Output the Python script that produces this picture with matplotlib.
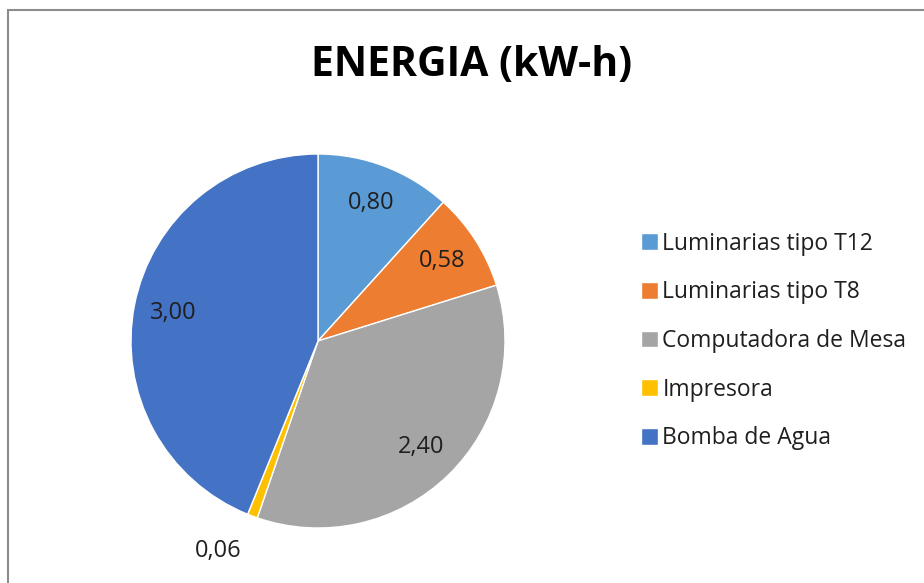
import matplotlib
matplotlib.use("Agg")
import matplotlib.pyplot as plt
import numpy as np
from matplotlib.patches import Rectangle

categories = ["Luminarias tipo T12", "Luminarias tipo T8", "Computadora de Mesa", "Impresora", "Bomba de Agua"]
values = [0.80, 0.58, 2.40, 0.06, 3.00]
colors = ["#5B9BD5", "#ED7D31", "#A5A5A5", "#FFC000", "#4472C4"]
title = "ENERGIA (kW-h)"

plt.rcParams['font.family'] = ['Open Sans', 'DejaVu Sans']

W, H = 924, 583
fig = plt.figure(figsize=(W/100, H/100), dpi=100)
fig.patch.set_facecolor("white")

# chart border
fig.add_artist(Rectangle((8/W, -0.2), 1.2, 1.2 - 10/H, transform=fig.transFigure,
                         fill=False, edgecolor="#8C8C8C", linewidth=1.5))

cx, cy, r = 318, 341, 187
ax = fig.add_axes([(cx - r)/W, (H - cy - r)/H, 2*r/W, 2*r/H])
wedges, texts = ax.pie(values, colors=colors, startangle=90, counterclock=False,
                       radius=1.0, wedgeprops=dict(edgecolor="white", linewidth=1))
ax.set_xlim(-1, 1)
ax.set_ylim(-1, 1)
ax.set_aspect("equal")
ax.axis("off")

for w, v in zip(wedges, values):
    ang = np.deg2rad((w.theta1 + w.theta2) / 2)
    lab = f"{v:.2f}".replace(".", ",")
    if v / sum(values) < 0.03:
        d = 1.23
        x, y = d*np.cos(ang) - 0.10, d*np.sin(ang) + 0.03
    else:
        d = 0.79
        x, y = d*np.cos(ang), d*np.sin(ang)
    ax.text(x, y, lab, ha="center", va="center", fontsize=17, color="#1F1F1F")

fig.text(472/W, 1 - 66/H, title, ha="center", va="center", fontsize=29.5,
         fontweight="bold", color="black")

leg = fig.legend(wedges, categories, loc="center left", bbox_to_anchor=(620/W, 1 - 341/H),
                 frameon=False, fontsize=16.5, handlelength=0.75, handleheight=0.75,
                 handletextpad=0.2, labelspacing=1.08, labelcolor="#1F1F1F")

fig.savefig("out.png", dpi=100)
